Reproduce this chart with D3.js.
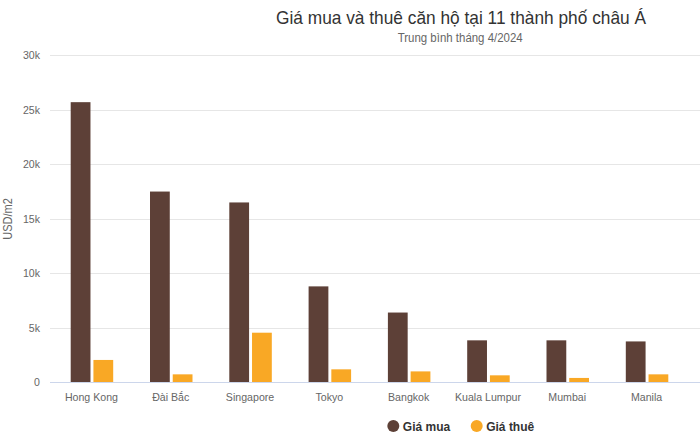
<!DOCTYPE html>
<html>
<head>
<meta charset="utf-8">
<script src="https://cdn.jsdelivr.net/npm/d3@7"></script>
<style>
  html, body { margin: 0; padding: 0; background: #fff; }
  svg { display: block; font-family: "Liberation Sans", Arial, sans-serif; }
</style>
</head>
<body>
<svg id="chart" width="700" height="443"></svg>
<script>
const categories = ["Hong Kong", "Đài Bắc", "Singapore", "Tokyo", "Bangkok", "Kuala Lumpur", "Mumbai", "Manila"];
const buyPrices = [25700, 17500, 16500, 8800, 6400, 3850, 3850, 3750];
const rentPrices = [2050, 730, 4550, 1190, 1000, 640, 400, 730];
const seriesNames = ["Giá mua", "Giá thuê"];
const yTicks = [0, 5000, 10000, 15000, 20000, 25000, 30000];
const tickLabels = ["0", "5k", "10k", "15k", "20k", "25k", "30k"];
const colors = ["#5d4037", "#f9a825"];

const svg = d3.select("#chart");
const plotTop = 55.3, plotBottom = 382.3, plotLeft = 52.3, plotRight = 686.7;

const y = d3.scaleLinear().domain([0, 30000]).range([plotBottom, plotTop]);
const x = d3.scaleBand().domain(categories).range([plotLeft, plotRight]).padding(0);
const inner = d3.scaleBand().domain([0, 1]).range([0, 42.5]).paddingInner(0.13);

// gridlines
svg.append("g").selectAll("line").data(yTicks.slice(1)).join("line")
  .attr("x1", 50).attr("x2", 700)
  .attr("y1", d => Math.round(y(d)) + 0.5).attr("y2", d => Math.round(y(d)) + 0.5)
  .attr("stroke", "#e6e6e6").attr("stroke-width", 1);

// y tick labels
svg.append("g").selectAll("text").data(yTicks).join("text")
  .attr("transform", d => `translate(40,${y(d) + 4}) scale(0.92,1)`)
  .attr("text-anchor", "end")
  .attr("font-size", 11.5).attr("fill", "#666")
  .text((d, i) => tickLabels[i]);

// y axis title
svg.append("text")
  .attr("transform", `translate(12, 219) rotate(-90) scale(0.92,1)`)
  .attr("text-anchor", "middle")
  .attr("font-size", 12).attr("fill", "#666")
  .text("USD/m2");

// bars
const groups = svg.append("g").selectAll("g").data(categories).join("g")
  .attr("transform", d => `translate(${x(d) + x.bandwidth() / 2 - 21.25},0)`);
groups.append("rect")
  .attr("x", inner(0)).attr("width", inner.bandwidth())
  .attr("y", (d, i) => y(buyPrices[i])).attr("height", (d, i) => plotBottom - y(buyPrices[i]))
  .attr("fill", colors[0]);
groups.append("rect")
  .attr("x", inner(1)).attr("width", inner.bandwidth())
  .attr("y", (d, i) => y(rentPrices[i])).attr("height", (d, i) => plotBottom - y(rentPrices[i]))
  .attr("fill", colors[1]);

// x axis line
svg.append("line").attr("x1", 50).attr("x2", 700)
  .attr("y1", Math.round(plotBottom) + 0.5).attr("y2", Math.round(plotBottom) + 0.5)
  .attr("stroke", "#ccd6eb").attr("stroke-width", 1);

// x labels
svg.append("g").selectAll("text").data(categories).join("text")
  .attr("transform", d => `translate(${x(d) + x.bandwidth() / 2 - 0.5},401) scale(0.9,1)`)
  .attr("text-anchor", "middle")
  .attr("font-size", 11.8).attr("fill", "#666")
  .text(d => d);

// title
svg.append("text").attr("x", 276).attr("y", 24)
  .attr("textLength", 370).attr("lengthAdjust", "spacingAndGlyphs")
  .attr("font-size", 19).attr("fill", "#333")
  .text("Giá mua và thuê căn hộ tại 11 thành phố châu Á");
svg.append("text").attr("x", 397.7).attr("y", 42)
  .attr("textLength", 125).attr("lengthAdjust", "spacingAndGlyphs")
  .attr("font-size", 12.5).attr("fill", "#666")
  .text("Trung bình tháng 4/2024");

// legend
const legendX = [393.3, 476.7];
const lg = svg.append("g").selectAll("g").data(seriesNames).join("g")
  .attr("transform", (d, i) => `translate(${legendX[i]},426)`);
lg.append("circle").attr("r", 6).attr("fill", (d, i) => colors[i]);
lg.append("text").attr("x", 9.5).attr("y", 4.5)
  .attr("font-size", 12).attr("font-weight", "bold").attr("fill", "#333")
  .text(d => d);
</script>
</body>
</html>
